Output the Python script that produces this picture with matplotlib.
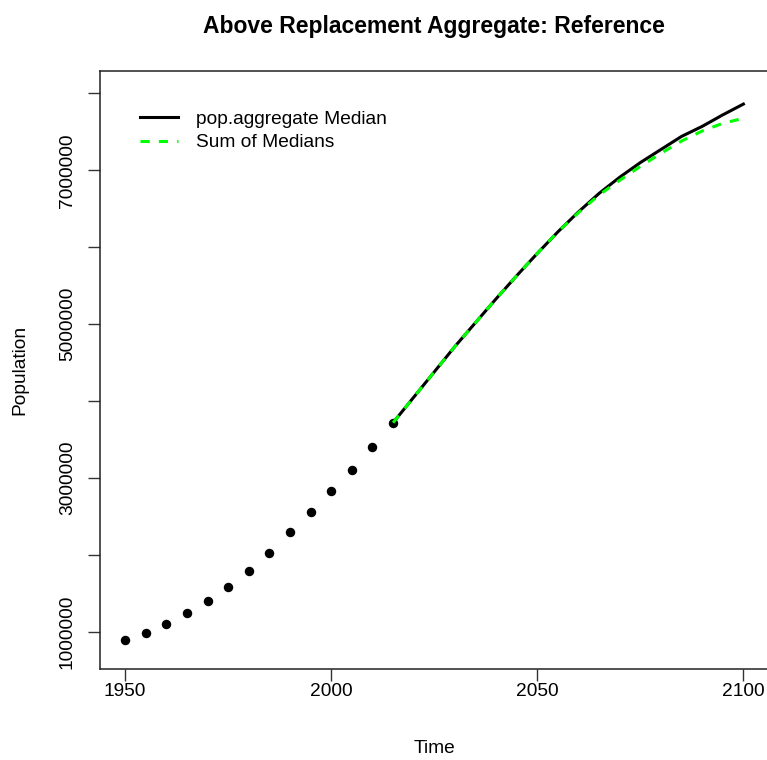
import matplotlib
matplotlib.use("Agg")
import matplotlib.pyplot as plt
import numpy as np

plt.rcParams["font.family"] = ["Liberation Sans", "DejaVu Sans"]

##################################################
# Data (population)
obs_years = [1950, 1955, 1960, 1965, 1970, 1975, 1980, 1985, 1990,
             1995, 2000, 2005, 2010, 2015]
obs_pop = [896000, 983000, 1104000, 1243000, 1399000, 1585000, 1793000,
           2031000, 2295000, 2559000, 2832000, 3109000, 3408000, 3720000]

proj_years = [2015, 2020, 2025, 2030, 2035, 2040, 2045, 2050, 2055, 2060,
              2065, 2070, 2075, 2080, 2085, 2090, 2095, 2100]
agg_median = [3720000, 4050000, 4380000, 4710000, 5020000, 5330000, 5630000,
              5920000, 6200000, 6460000, 6700000, 6910000, 7100000, 7270000,
              7440000, 7570000, 7720000, 7860000]
sum_medians = [3720000, 4050000, 4380000, 4710000, 5020000, 5330000, 5630000,
               5920000, 6200000, 6450000, 6680000, 6870000, 7050000, 7220000,
               7380000, 7510000, 7610000, 7675000]

x_ticks = [1950, 2000, 2050, 2100]
y_ticks = [1000000, 3000000, 5000000, 7000000]
y_minor = [2000000, 4000000, 6000000, 8000000]

##################################################
# Plot
fig = plt.figure(figsize=(7.67, 7.6), dpi=100)
ax = fig.add_axes([0.1304, 0.1193, 0.8716, 0.7877])

ax.plot(obs_years, obs_pop, "o", color="black", markersize=5.8, zorder=3)
ax.plot(proj_years, agg_median, color="black", lw=2.2,
        label="pop.aggregate Median", zorder=4)
ax.plot(proj_years, sum_medians, color="#00ff00", lw=2.2, dashes=(3, 3),
        label="Sum of Medians", zorder=5)

ax.set_xlim(1943.9, 2106.1)
ax.set_ylim(515000, 8294000)

ax.set_xticks(x_ticks)
ax.set_xticklabels([str(v) for v in x_ticks])
ax.set_yticks(y_ticks + y_minor)
ax.set_yticklabels([str(v) for v in y_ticks] + [""] * len(y_minor),
                   rotation=90, va="center")

ax.tick_params(axis="both", direction="out", length=8.4, width=1.0,
               labelsize=13.8, color="#333333")
ax.tick_params(axis="x", pad=1.5)
ax.tick_params(axis="y", pad=9)
for s in ax.spines.values():
    s.set_linewidth(1.1)
    s.set_color("#222222")

ax.set_xlabel("Time", fontsize=13.8, labelpad=29)
ax.set_ylabel("Population", fontsize=13.8, labelpad=22)
ax.set_title("Above Replacement Aggregate: Reference", fontsize=16.5,
             fontweight="bold", pad=27)

ax.legend(loc="upper left", bbox_to_anchor=(0.06, 0.933), frameon=False,
          fontsize=13.8, handlelength=2.0, handletextpad=0.9,
          labelspacing=0.3, borderpad=0, borderaxespad=0)

fig.savefig("out.png", dpi=100)
